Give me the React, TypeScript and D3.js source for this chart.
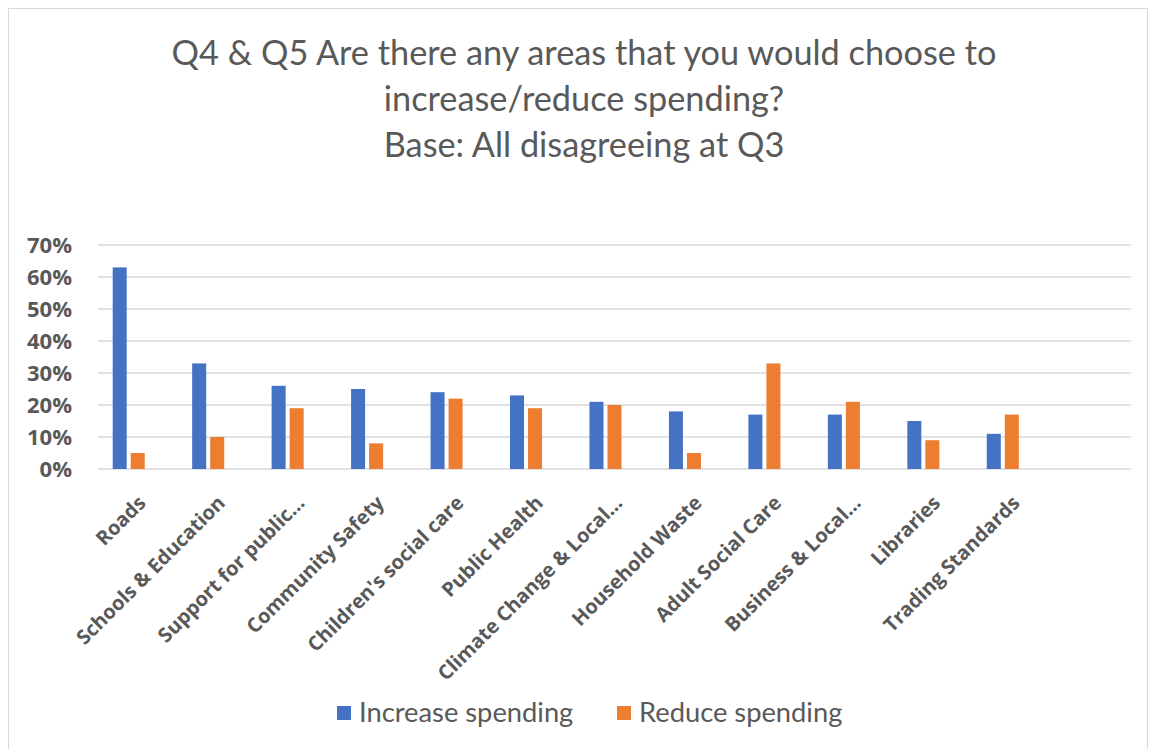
import * as d3 from 'd3';

const categories = [
  'Roads',
  'Schools & Education',
  'Support for public…',
  'Community Safety',
  "Children's social care",
  'Public Health',
  'Climate Change & Local…',
  'Household Waste',
  'Adult Social Care',
  'Business & Local…',
  'Libraries',
  'Trading Standards',
];
const increaseSpending = [63, 33, 26, 25, 24, 23, 21, 18, 17, 17, 15, 11];
const reduceSpending = [5, 10, 19, 8, 22, 19, 20, 5, 33, 21, 9, 17];
const yTicks = [0, 10, 20, 30, 40, 50, 60, 70];
const seriesNames = ['Increase spending', 'Reduce spending'];
const seriesColors = ['#4472C4', '#ED7D31'];

const W = 1150;
const H = 749;
const PLOT = { left: 98, right: 1131, top: 245, bottom: 469 };
const TEXT = '#595959';
const GRID = '#d9d9d9';
const LABEL_FONT = "'Open Sans', sans-serif";
const TITLE_FONT = "Lato, 'Open Sans', sans-serif";

export default function App() {
  // the source chart has a trailing empty category and an empty third series slot
  const x = d3.scaleBand<string>()
    .domain([...categories, ''])
    .range([PLOT.left, PLOT.right]);
  const bw = x.bandwidth();
  const groupW = bw * 0.63;
  const inner = d3.scaleBand<number>()
    .domain([0, 1, 2])
    .range([(bw - groupW) / 2, (bw + groupW) / 2])
    .paddingInner(0.222);
  const y = d3.scaleLinear().domain([0, 70]).range([PLOT.bottom, PLOT.top]);
  const values = [increaseSpending, reduceSpending];

  return (
    <svg width={W} height={H} style={{ position: 'absolute', left: 0, top: 0, background: '#fff' }}>
      <rect x={8.5} y={8.5} width={1139} height={760} fill="#fff" stroke={GRID} strokeWidth={1} />

      <g fontFamily={TITLE_FONT} fill={TEXT} fontSize={34.3} textAnchor="middle">
        <text x={584} y={65}>Q4 &amp; Q5 Are there any areas that you would choose to</text>
        <text x={584} y={111}>increase/reduce spending?</text>
        <text x={584} y={157}>Base: All disagreeing at Q3</text>
      </g>

      {yTicks.map(t => (
        <line key={t} x1={PLOT.left} x2={PLOT.right} y1={y(t)} y2={y(t)} stroke={GRID} strokeWidth={1.5} />
      ))}
      {yTicks.map(t => (
        <text key={t} x={72} y={y(t)} dy="0.36em" textAnchor="end" fill={TEXT}
          fontFamily={LABEL_FONT} fontWeight={700} fontSize={22}>{t}%</text>
      ))}

      {values.map((vals, s) => (
        <g key={s} fill={seriesColors[s]}>
          {vals.map((v, i) => (
            <rect key={i} x={x(categories[i])! + inner(s)!} y={y(v)} width={inner.bandwidth()}
              height={y(0) - y(v)} />
          ))}
        </g>
      ))}

      {categories.map(c => {
        const cx = x(c)! + bw / 2;
        return (
          <text key={c} transform={`translate(${cx - 1},494) rotate(-45)`} dy="0.72em" textAnchor="end"
            fill={TEXT} fontFamily={LABEL_FONT} fontWeight={700} fontSize={20}>{c}</text>
        );
      })}

      <g fontFamily={TITLE_FONT} fontSize={27.3} fill={TEXT}>
        <rect x={337} y={706} width={14} height={14} fill={seriesColors[0]} />
        <text x={359} y={722}>{seriesNames[0]}</text>
        <rect x={617} y={706} width={14} height={14} fill={seriesColors[1]} />
        <text x={639} y={722}>{seriesNames[1]}</text>
      </g>
    </svg>
  );
}
